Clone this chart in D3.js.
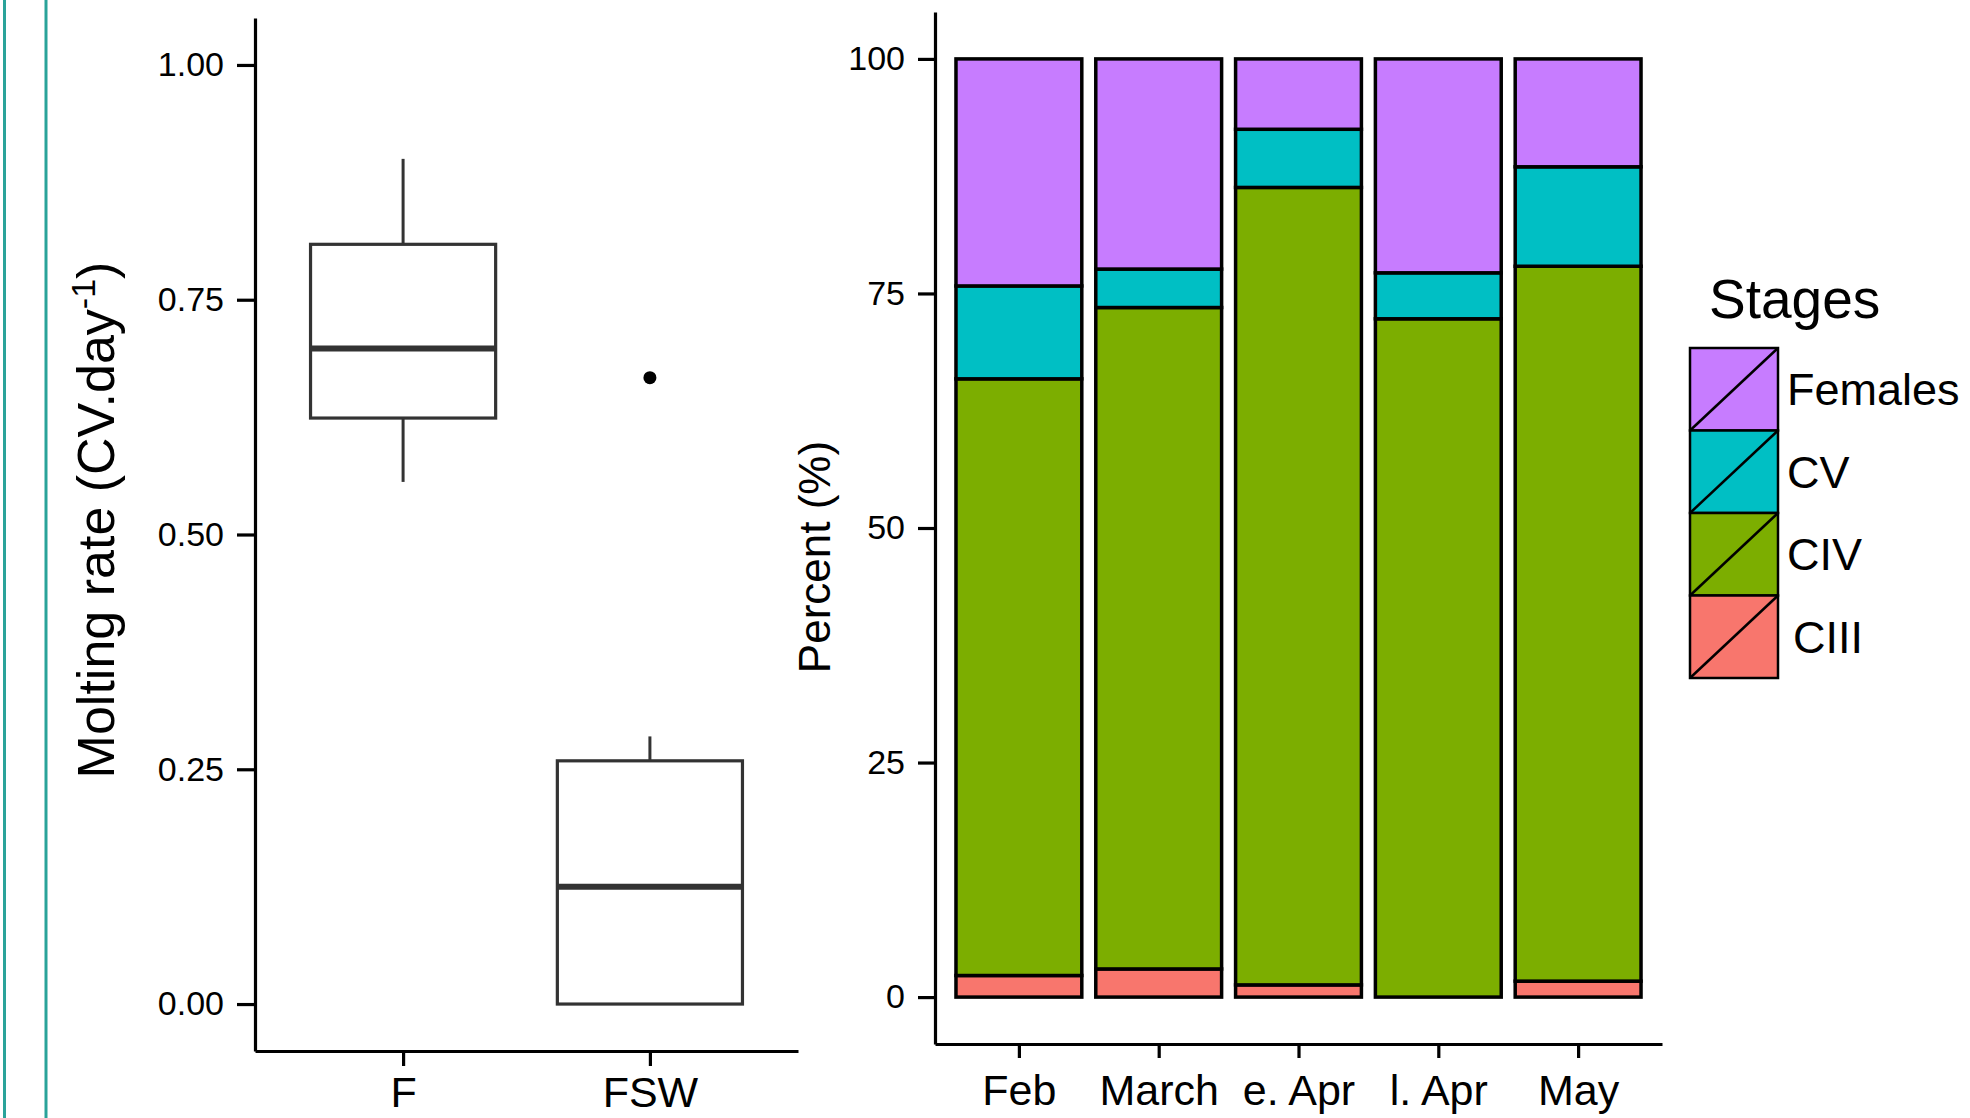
<!DOCTYPE html>
<html>
<head>
<meta charset="utf-8">
<script src="https://cdn.jsdelivr.net/npm/d3@7"></script>
<style>
  html, body { margin: 0; padding: 0; background: #fff; }
  svg { display: block; font-family: "Liberation Sans", Arial, Helvetica, sans-serif; }
</style>
</head>
<body>
<svg id="fig" width="1970" height="1118"></svg>
<script>
// ---- Molting rate per treatment (box plot summaries) ----
const treatments = ["F", "FSW"];
const boxLow    = [0.556, 0.000];
const boxQ1     = [0.624, 0.000];
const boxMedian = [0.698, 0.125];
const boxQ3     = [0.809, 0.259];
const boxHigh   = [0.900, 0.285];
const outlierGroup = ["FSW"];
const outlierValue = [0.667];
const rateTicks = [0, 0.25, 0.5, 0.75, 1.0];

// ---- Stage composition per sampling period (percent) ----
const periods = ["Feb", "March", "e. Apr", "l. Apr", "May"];
const stages = ["CIII", "CIV", "CV", "Females"];          // stacking order, bottom to top
const pctCIII    = [2.3, 3.0, 1.3, 0.0, 1.7];
const pctCIV     = [63.6, 70.5, 85.0, 72.3, 76.2];
const pctCV      = [9.9, 4.1, 6.2, 4.9, 10.6];
const pctFemales = [24.2, 22.4, 7.5, 22.8, 11.5];
const stageColors = ["#F8766D", "#7CAE00", "#00BFC4", "#C77CFF"];
const pctTicks = [0, 25, 50, 75, 100];

const svg = d3.select("#fig");

// teal rules at the left margin
[4.5, 46].forEach(x => {
  svg.append("line").attr("x1", x).attr("x2", x).attr("y1", 0).attr("y2", 1118)
    .attr("stroke", "#2aa39a").attr("stroke-width", 3);
});

function styleAxis(g, fontSize) {
  g.select(".domain").attr("stroke", "#000").attr("stroke-width", 3.2);
  g.selectAll(".tick line").attr("stroke", "#000").attr("stroke-width", 3.2);
  g.selectAll(".tick text").attr("fill", "#000")
    .style("font-size", fontSize + "px")
    .style("font-family", "'Liberation Sans', Arial, sans-serif");
}

// ================= Left panel: box plots =================
const yRate = d3.scaleLinear().domain([-0.05, 1.05]).range([1051, 18]);
const xTreat = d3.scalePoint().domain(treatments).range([255, 798]).padding(0.6);
const boxW = xTreat.step() * 0.75;

const gL = svg.append("g");

const gLy = gL.append("g").attr("transform", "translate(255,0)")
  .call(d3.axisLeft(yRate).tickValues(rateTicks).tickFormat(d3.format(".2f"))
    .tickSize(18).tickSizeOuter(0).tickPadding(13));
styleAxis(gLy, 34);

const gLx = gL.append("g").attr("transform", "translate(0,1051)")
  .call(d3.axisBottom(xTreat).tickSize(15).tickSizeOuter(0).tickPadding(10));
styleAxis(gLx, 43);

const boxes = gL.append("g").selectAll("g").data(treatments).join("g");
boxes.each(function (t, i) {
  const g = d3.select(this);
  const cx = xTreat(t);
  // whiskers
  g.append("line").attr("x1", cx).attr("x2", cx)
    .attr("y1", yRate(boxQ3[i])).attr("y2", yRate(boxHigh[i]))
    .attr("stroke", "#333").attr("stroke-width", 3);
  g.append("line").attr("x1", cx).attr("x2", cx)
    .attr("y1", yRate(boxQ1[i])).attr("y2", yRate(boxLow[i]))
    .attr("stroke", "#333").attr("stroke-width", 3);
  // box
  g.append("rect").attr("x", cx - boxW / 2).attr("width", boxW)
    .attr("y", yRate(boxQ3[i])).attr("height", yRate(boxQ1[i]) - yRate(boxQ3[i]))
    .attr("fill", "#fff").attr("stroke", "#333").attr("stroke-width", 3.2);
  // median
  g.append("line").attr("x1", cx - boxW / 2).attr("x2", cx + boxW / 2)
    .attr("y1", yRate(boxMedian[i])).attr("y2", yRate(boxMedian[i]))
    .attr("stroke", "#333").attr("stroke-width", 6);
});

gL.append("g").selectAll("circle").data(outlierValue).join("circle")
  .attr("cx", (d, i) => xTreat(outlierGroup[i]))
  .attr("cy", d => yRate(d))
  .attr("r", 6.5).attr("fill", "#000");

// y title with superscript
const tL = gL.append("text")
  .attr("transform", "translate(114,520) rotate(-90)")
  .attr("text-anchor", "middle")
  .style("font-size", "52px").attr("fill", "#000");
tL.append("tspan").text("Molting rate (CV.day");
tL.append("tspan").attr("baseline-shift", "super").style("font-size", "34px").text("-1");
tL.append("tspan").text(")");

// ================= Right panel: stacked bars =================
const yPct = d3.scaleLinear().domain([-5, 105]).range([1044, 12]);
const xPer = d3.scalePoint().domain(periods).range([935, 1662]).padding(0.6);
const barW = xPer.step() * 0.9;

const color = d3.scaleOrdinal().domain(stages).range(stageColors);
const stageValues = { CIII: pctCIII, CIV: pctCIV, CV: pctCV, Females: pctFemales };
const table = periods.map((p, i) => {
  const row = { period: p };
  stages.forEach(s => { row[s] = stageValues[s][i]; });
  return row;
});
const series = d3.stack().keys(stages)(table);

const gR = svg.append("g");

const gRy = gR.append("g").attr("transform", "translate(935,0)")
  .call(d3.axisLeft(yPct).tickValues(pctTicks).tickFormat(d3.format("d"))
    .tickSize(17).tickSizeOuter(0).tickPadding(13));
styleAxis(gRy, 34);

const gRx = gR.append("g").attr("transform", "translate(0,1044)")
  .call(d3.axisBottom(xPer).tickSize(14).tickSizeOuter(0).tickPadding(16));
styleAxis(gRx, 43);

gR.append("g").selectAll("g").data(series).join("g")
  .attr("fill", d => color(d.key))
  .selectAll("rect").data(d => d).join("rect")
  .attr("x", d => xPer(d.data.period) - barW / 2)
  .attr("width", barW)
  .attr("y", d => yPct(d[1]))
  .attr("height", d => yPct(d[0]) - yPct(d[1]))
  .attr("stroke", "#000").attr("stroke-width", 3.5);

gR.append("text")
  .attr("transform", "translate(830,557) rotate(-90)")
  .attr("text-anchor", "middle")
  .style("font-size", "44px").attr("fill", "#000")
  .text("Percent (%)");

// ================= Legend =================
const legendOrder = stages.slice().reverse();
const keyX = 1690, keyW = 88, keyH = 82.5, keyY0 = 348;
const gLeg = svg.append("g");
gLeg.append("text").attr("x", 1709).attr("y", 318)
  .style("font-size", "55px").attr("fill", "#000").text("Stages");

const items = gLeg.selectAll("g.item").data(legendOrder).join("g").attr("class", "item")
  .attr("transform", (d, i) => `translate(${keyX},${keyY0 + i * keyH})`);
items.append("rect").attr("width", keyW).attr("height", keyH)
  .attr("fill", d => color(d)).attr("stroke", "#000").attr("stroke-width", 2.5);
items.append("line").attr("x1", 0).attr("y1", keyH).attr("x2", keyW).attr("y2", 0)
  .attr("stroke", "#000").attr("stroke-width", 2.5);
items.append("text")
  .attr("x", d => d === "CIII" ? keyW + 15 : keyW + 9)
  .attr("y", keyH / 2 + 16)
  .style("font-size", "45px").attr("fill", "#000")
  .text(d => d);
</script>
</body>
</html>
